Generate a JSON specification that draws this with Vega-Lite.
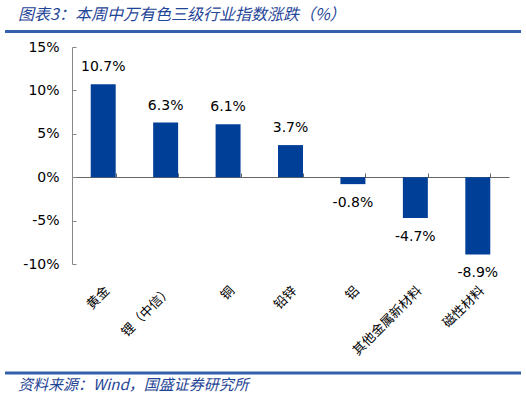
{
  "$schema": "https://vega.github.io/schema/vega-lite/v6.json",
  "width": 437,
  "height": 217,
  "autosize": {"type": "none"},
  "padding": {"left": 72, "top": 47, "right": 17, "bottom": 134},
  "config": {
    "view": {"stroke": null},
    "axis": {"grid": false},
    "locale": {"number": {"decimal": ".", "thousands": ",", "grouping": [3], "currency": ["$", ""], "minus": "-"}}
  },
  "title": {
    "text": "图表3：本周中万有色三级行业指数涨跌（%）",
    "anchor": "start",
    "frame": "group",
    "dx": -54,
    "offset": 7,
    "font": "Noto Sans CJK SC",
    "fontSize": 16,
    "fontStyle": "italic",
    "fontWeight": "normal",
    "color": "#1F4597"
  },
  "data": {
    "values": [
      {"cat": "黄金", "v": 0.107},
      {"cat": "锂（中信）", "v": 0.063},
      {"cat": "铜", "v": 0.061},
      {"cat": "铅锌", "v": 0.037},
      {"cat": "铝", "v": -0.008},
      {"cat": "其他金属新材料", "v": -0.047},
      {"cat": "磁性材料", "v": -0.089}
    ]
  },
  "layer": [
    {
      "layer": [
        {
          "mark": {"type": "bar", "color": "#003F98"},
          "encoding": {
            "x": {
              "field": "cat", "type": "nominal", "sort": null,
              "scale": {"paddingInner": 0.6, "paddingOuter": 0.3},
              "axis": {
                "title": null, "labelAngle": -45, "labelFont": "Noto Sans CJK SC",
                "labelFontSize": 13, "labelFontWeight": "normal", "labelColor": "#000", "ticks": false,
                "domain": false, "labelPadding": 20
              }
            },
            "y": {
              "field": "v", "type": "quantitative",
              "scale": {"domain": [-0.1, 0.15], "nice": false, "zero": false},
              "axis": {
                "title": null, "format": ".0%",
                "values": [-0.1, -0.05, 0, 0.05, 0.1, 0.15],
                "labelFont": "DejaVu Sans", "labelFontSize": 14, "labelColor": "#000",
                "domainColor": "#888888", "tickColor": "#888888", "tickSize": -4,
                "labelPadding": 17
              }
            }
          }
        },
        {
          "transform": [{"filter": "datum.v >= 0"}],
          "mark": {"type": "text", "dy": -17, "font": "DejaVu Sans", "fontSize": 14, "baseline": "middle", "color": "#000"},
          "encoding": {
            "x": {"field": "cat", "type": "nominal", "sort": null},
            "y": {"field": "v", "type": "quantitative"},
            "text": {"field": "v", "type": "quantitative", "format": ".1%"}
          }
        },
        {
          "transform": [{"filter": "datum.v < 0"}],
          "mark": {"type": "text", "dy": 19, "font": "DejaVu Sans", "fontSize": 14, "baseline": "middle", "color": "#000"},
          "encoding": {
            "x": {"field": "cat", "type": "nominal", "sort": null},
            "y": {"field": "v", "type": "quantitative"},
            "text": {"field": "v", "type": "quantitative", "format": ".1%"}
          }
        }
      ]
    },
    {
      "mark": {"type": "bar", "opacity": 0},
      "encoding": {
        "x": {
          "field": "cat", "type": "nominal", "sort": null,
          "scale": {"paddingInner": 0.6, "paddingOuter": 0.3},
          "axis": {
            "orient": "top", "title": null, "labels": false, "offset": -130,
            "tickBand": "extent", "tickSize": 4, "domainColor": "#666666",
            "tickColor": "#666666"
          }
        },
        "y": {"field": "v", "type": "quantitative"}
      }
    },
    {
      "data": {"values": [{}]},
      "layer": [
        {
          "mark": {"type": "rule", "color": "#3360AA", "strokeWidth": 3},
          "encoding": {
            "x": {"datum": -0.1533, "type": "quantitative", "scale": {"domain": [0, 1], "nice": false, "zero": false}, "axis": null},
            "x2": {"datum": 1.0275},
            "y": {"datum": 0.1679, "type": "quantitative"}
          }
        },
        {
          "mark": {"type": "rule", "color": "#3360AA", "strokeWidth": 3},
          "encoding": {
            "x": {"datum": -0.1533, "type": "quantitative"},
            "x2": {"datum": 1.0275},
            "y": {"datum": -0.2256, "type": "quantitative"}
          }
        },
        {
          "mark": {"type": "text", "align": "left", "baseline": "middle", "font": "Noto Sans CJK SC", "fontSize": 15, "fontStyle": "italic", "color": "#1F4597"},
          "encoding": {
            "x": {"datum": -0.1236, "type": "quantitative"},
            "y": {"datum": -0.2394, "type": "quantitative"},
            "text": {"value": "资料来源：Wind，国盛证券研究所"}
          }
        }
      ]
    }
  ],
  "resolve": {"scale": {"x": "independent"}, "axis": {"x": "independent"}}
}
